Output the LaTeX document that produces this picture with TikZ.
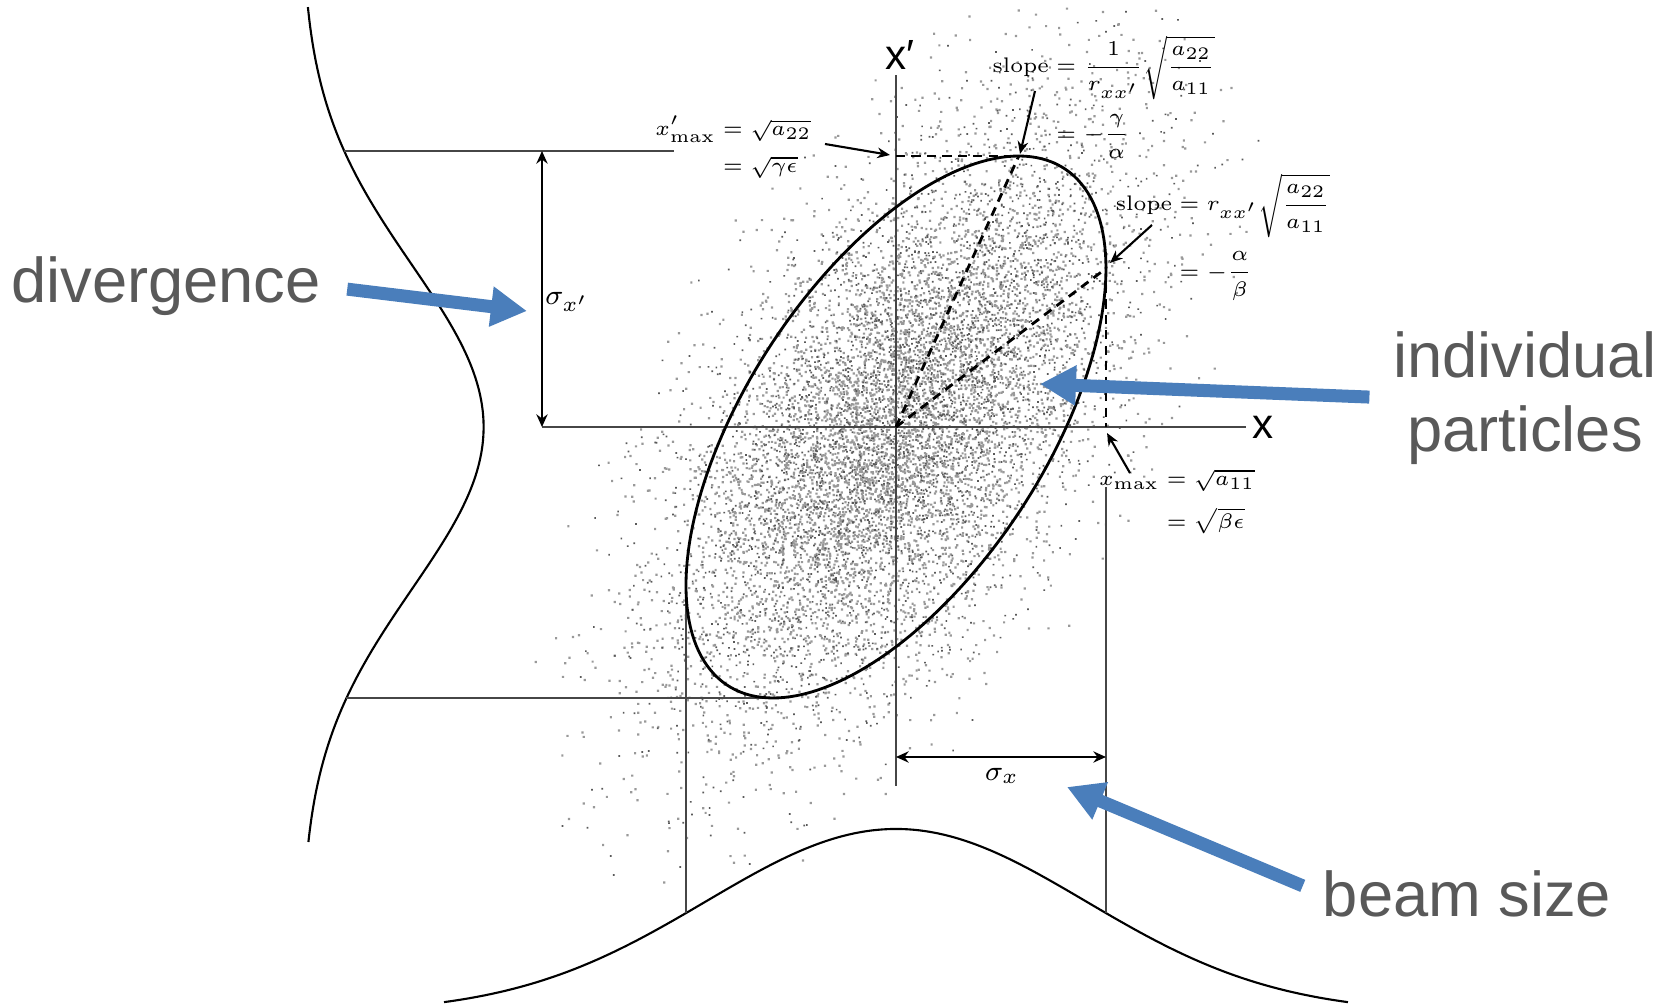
\documentclass[tikz,border=0pt]{standalone}
\usepackage{amsmath,amssymb}
\usepackage{fontspec}
\newfontfamily\arialfont{Liberation Sans}
\usepackage{tikz}
\usetikzlibrary{arrows.meta,positioning}
\usepackage{xcolor}
\definecolor{beamblue}{RGB}{74,126,187}
\definecolor{labelgray}{RGB}{89,89,89}
\definecolor{axisgray}{RGB}{70,70,70}

\begin{document}
\begin{tikzpicture}[
    axisline/.style={axisgray,line width=0.6pt},
    projline/.style={axisgray,line width=0.5pt},
    gaussline/.style={black,line width=0.6pt},
    dashline/.style={black,line width=0.8pt,dash pattern=on 2.6pt off 1.8pt},
    ptr/.style={black,line width=0.6pt,-{Stealth[length=3.6pt,width=3pt]}},
    sigarrow/.style={black,line width=0.8pt,{Stealth[length=3.6pt,width=3.2pt]}-{Stealth[length=3.6pt,width=3.2pt]}},
    fatarrow/.style={beamblue,line width=0.13cm,-{Triangle[length=0.36cm,width=0.38cm]}},
    bigtext/.style={font=\arialfont\fontsize{18}{21}\selectfont,text=labelgray,inner sep=0pt,align=center},
    eqtext/.style={font=\fontsize{6}{7.5}\selectfont,inner sep=0pt},
    siglabel/.style={font=\fontsize{8}{10}\selectfont,inner sep=0pt},
    axlabel/.style={font=\arialfont\fontsize{12}{14}\selectfont,inner sep=0pt}]
    \useasboundingbox (-8.96,-5.77) rectangle (7.77,4.27);
    \pgfmathsetseed{4711}
    \foreach \c/\n/\s in {black!40/70/0.022,black!65/30/0.017}
      \foreach \k in {1,...,\n}
        \fill[\c] \foreach \i [evaluate=\i as \r using {sqrt(-2*ln(0.006+0.993*rnd))},
            evaluate=\i as \t using {360*rnd}] in {1,...,100}
          {({1.135*\r*cos(\t)},{1.465*\r*(0.585*cos(\t)+0.811*sin(\t))}) rectangle ++(\s,\s)};

    \coordinate (O) at (0,0);
    \coordinate (xl) at (-3.54,0);
    \coordinate (xr) at (3.50,0);
    \coordinate (yt) at (0,3.52);
    \coordinate (yb) at (0,-3.59);
    \coordinate (top) at (1.228,2.71);
    \coordinate (rgt) at (2.10,1.585);
    \coordinate (lft) at (-2.10,-1.585);
    \coordinate (bot) at (-1.228,-2.71);
    \coordinate (topax) at (0,2.71);
    \coordinate (rgtax) at (2.10,0);
    \coordinate (gtop) at (-5.518,2.76);
    \coordinate (ltop) at (-2.22,2.76);
    \coordinate (gbot) at (-5.495,-2.71);
    \coordinate (vlb) at (-2.10,-4.861);
    \coordinate (vrt) at (2.10,-0.6);
    \coordinate (vrb) at (2.10,-4.861);

    \draw[axisline] (xl) -- (xr);
    \draw[axisline] (yb) -- (yt);
    \node[axlabel] (xlab) at (3.67,0) {x};
    \node[axlabel] (xplab) at (0.04,3.72) {x′};

    \draw[gaussline] plot[domain=-4.15:4.2,samples=100,smooth] ({-5.944+1.82*exp(-(\x)*(\x)/5.249)},\x);
    \draw[gaussline] plot[domain=-4.52:4.52,samples=100,smooth] (\x,{-5.86+1.84*exp(-(\x)*(\x)/7.22)});
    \draw[projline] (gtop) -- (ltop);
    \draw[projline] (gbot) -- (bot);
    \draw[projline] (lft) -- (vlb);
    \draw[projline] (vrt) -- (vrb);

    \draw[black,line width=0.8pt] plot[domain=0:360,samples=181] ({2.10*cos(\x)},{2.71*cos(\x-54.2)}) -- cycle;
    \draw[dashline] (topax) -- (top);
    \draw[dashline] (O) -- (top);
    \draw[dashline] (O) -- (rgt);
    \draw[dashline] (rgt) -- (rgtax);

    \draw[sigarrow] (-3.54,0) coordinate (sxpb) -- (-3.54,2.76) coordinate (sxpt);
    \node[siglabel] (sxplab) at (-3.29,1.25) {$\sigma_{x'}$};
    \draw[sigarrow] (0,-3.30) coordinate (sxl) -- (2.10,-3.30) coordinate (sxr);
    \node[siglabel] (sxlab) at (1.06,-3.49) {$\sigma_x$};

    \node[eqtext,anchor=east] (xpmax) at (-0.84,2.79)
      {$\begin{aligned} x'_{\max} &= \sqrt{a_{22}}\\ &= \sqrt{\gamma\epsilon}\end{aligned}$};
    \node[eqtext] (slopea) at (2.08,3.30)
      {$\begin{aligned} \mathrm{slope} &= \frac{1}{r_{xx'}}\sqrt{\frac{a_{22}}{a_{11}}}\\ &= -\frac{\gamma}{\alpha}\end{aligned}$};
    \node[eqtext] (slopeb) at (3.27,1.90)
      {$\begin{aligned} \mathrm{slope} &= r_{xx'}\sqrt{\frac{a_{22}}{a_{11}}}\\ &= -\frac{\alpha}{\beta}\end{aligned}$};
    \node[eqtext] (xmax) at (2.81,-0.75)
      {$\begin{aligned} x_{\max} &= \sqrt{a_{11}}\\ &= \sqrt{\beta\epsilon}\end{aligned}$};

    \coordinate (pa1) at (-0.71,2.83);  \coordinate (pa2) at (-0.06,2.72);
    \coordinate (pb1) at (1.39,3.36);   \coordinate (pb2) at (1.24,2.73);
    \coordinate (pc1) at (2.56,2.02);   \coordinate (pc2) at (2.14,1.64);
    \coordinate (pd1) at (2.34,-0.46);  \coordinate (pd2) at (2.11,-0.06);
    \foreach \a/\b in {pa1/pa2,pb1/pb2,pc1/pc2,pd1/pd2}
      \draw[ptr] (\a) -- (\b);

    \node[bigtext] (div) at (-7.30,1.41) {divergence};
    \node[bigtext] (part) at (6.29,0.29) {individual\\particles};
    \node[bigtext] (beam) at (5.71,-4.67) {beam size};
    \coordinate (divtip) at (-3.69,1.16);
    \coordinate (parttip) at (1.44,0.43);
    \coordinate (beamtip) at (1.71,-3.60);
    \draw[fatarrow,shorten <=0.26cm] (div.east) -- (divtip);
    \draw[fatarrow,shorten <=0.23cm] (part.west) -- (parttip);
    \draw[fatarrow,shorten <=0.21cm] (beam.west) -- (beamtip);
\end{tikzpicture}
\end{document}
